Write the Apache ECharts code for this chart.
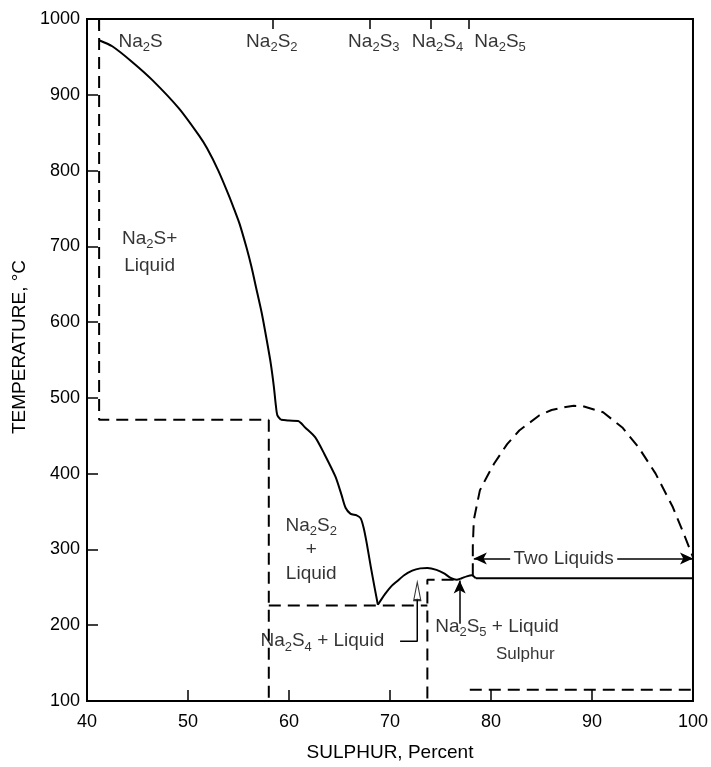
<!DOCTYPE html>
<html>
<head>
<meta charset="utf-8">
<script src="https://cdn.jsdelivr.net/npm/echarts@6/dist/echarts.min.js"></script>
<style>html,body{margin:0;padding:0;background:#fff}#c{width:711px;height:767px}</style>
</head>
<body>
<div id="c"></div>
<script>
// ---------- data ----------
const xTicks = [40, 50, 60, 70, 80, 90, 100];
const yTicks = [100, 200, 300, 400, 500, 600, 700, 800, 900, 1000];
const compoundTicks = [41.2, 58.4, 68.0, 74.0, 77.8];

// liquidus (solid) [S %, T °C], in pieces split at sharp corners
const liquidusA1 = [
  [41.2, 972], [42.5, 964], [44.5, 943], [46.5, 919], [49.1, 882], [51.1, 846],
  [51.9, 829], [53.0, 800], [54.05, 767], [54.6, 748], [55.1, 730], [55.8, 698],
  [56.3, 672], [56.75, 645], [57.3, 612], [57.8, 576], [58.2, 545], [58.5, 515],
  [58.7, 490], [58.85, 477], [59.2, 471]
];
const liquidusA2 = [
  [59.2, 471], [60.0, 470], [60.9, 469.5], [61.6, 461], [62.6, 448], [63.5, 426],
  [64.6, 396], [65.2, 372], [65.6, 355], [66.1, 347], [66.7, 345], [67.1, 341],
  [67.4, 328], [67.7, 308], [68.1, 277], [68.5, 248], [68.8, 227]
];
const liquidusB = [
  [68.8, 227], [69.5, 241], [70.1, 251], [70.7, 258], [71.4, 266],
  [72.2, 272], [73.0, 275], [73.7, 275.5], [74.6, 273], [75.4, 268], [76.0, 262.5],
  [76.6, 260], [77.1, 262], [77.6, 264.5], [78.1, 266], [78.5, 262]
];
const liquidusC = [[78.5, 262], [100, 262]];

// miscibility gap dome (dashed)
const dome = [
  [78.2, 266], [78.2, 304], [78.3, 339], [78.9, 378], [79.6, 396], [80.3, 413],
  [81.6, 439], [82.8, 457], [84.8, 477], [86.0, 484], [87.4, 488], [88.2, 489.5],
  [89.1, 489], [91.1, 481], [93.0, 461], [94.6, 435], [96.3, 400], [98.0, 356],
  [99.2, 317], [99.7, 300], [100, 290]
];

// dashed phase boundaries
const na2sLine     = [[41.2, 1000], [41.2, 471], [58.0, 471]];
const na2s2Line    = [[58.0, 471], [58.0, 100]];
const eutectic226  = [[58.0, 226], [73.7, 226]];
const na2s4Line    = [[76.3, 260], [73.7, 260], [73.7, 100]];
const sulphurLine  = [[77.9, 115], [100, 115]];

// Na2S4 + Liquid bracket (solid)
const na2s4Bracket = [[71.0, 179], [72.7, 179], [72.7, 236]];
const hollowHead   = [[72.7, 245]];

// arrows [from, to]
const arrows = [
  [[76.9, 202], [76.9, 259]],
  [[81.9, 288], [78.3, 288]],
  [[92.5, 288], [100, 288]]
];

// text labels [x, y, text]
const labelPos = [
  [45.3, 970], [58.3, 970], [68.4, 970], [74.7, 970], [80.9, 970],
  [46.2, 692], [62.2, 300], [63.3, 179], [80.6, 198], [87.2, 288], [83.4, 162]
];
const labelText = [
  'Na{s|2}S', 'Na{s|2}S{s|2}', 'Na{s|2}S{s|3}', 'Na{s|2}S{s|4}', 'Na{s|2}S{s|5}',
  'Na{s|2}S+\nLiquid', 'Na{s|2}S{s|2}\n+\nLiquid', 'Na{s|2}S{s|4} + Liquid',
  'Na{s|2}S{s|5} + Liquid', 'Two Liquids', 'Sulphur'
];
const labelLineHeight = [22, 22, 22, 22, 22, 27, 24, 22, 22, 22, 22];
const labelFontSize   = [19, 19, 19, 19, 19, 19, 19, 19, 19, 19, 17];

// ---------- chart ----------
const FONT = 'Liberation Sans, Arial, Helvetica, sans-serif';
const dash = [12, 7];
function dashed(data) {
  return { type: 'line', data: data, symbol: 'none', silent: true, z: 3,
    lineStyle: { color: '#000', width: 2, type: dash } };
}
function solid(data, smooth) {
  return { type: 'line', data: data, symbol: 'none', silent: true, z: 4,
    smooth: smooth, lineStyle: { color: '#000', width: 2 } };
}

const chart = echarts.init(document.getElementById('c'), null, { renderer: 'canvas' });
const first = solid(liquidusA1, 0.25);
first.markLine = {
  silent: true, symbol: ['none', 'arrow'], symbolSize: [9, 13], precision: 3,
  label: { show: false },
  lineStyle: { color: '#000', width: 1.5, type: 'solid' },
  data: arrows.map(a => [{ coord: a[0] }, { coord: a[1] }])
};

chart.setOption({
  animation: false,
  backgroundColor: '#fff',
  grid: { left: 87, right: 13, top: 19, bottom: 62, show: true, borderColor: '#000', borderWidth: 2 },
  xAxis: [{
    type: 'value', min: xTicks[0], max: xTicks[xTicks.length - 1], interval: 10,
    name: 'SULPHUR, Percent', nameLocation: 'middle', nameGap: 42,
    nameTextStyle: { color: '#000', fontFamily: FONT, fontSize: 19 },
    axisLine: { show: true, onZero: false, lineStyle: { color: '#000', width: 2 } },
    axisTick: { show: true, inside: true, length: 11, lineStyle: { color: '#000', width: 1.5 } },
    axisLabel: { color: '#000', fontFamily: FONT, fontSize: 18, margin: 12, formatter: v => String(v) },
    splitLine: { show: false }
  }, {
    type: 'value', position: 'top', min: xTicks[0], max: xTicks[xTicks.length - 1],
    axisLine: { show: true, lineStyle: { color: '#000', width: 2 } },
    axisTick: { show: true, inside: true, length: 10, customValues: compoundTicks, lineStyle: { color: '#000', width: 1.5 } },
    axisLabel: { show: false },
    splitLine: { show: false }
  }],
  yAxis: {
    type: 'value', min: yTicks[0], max: yTicks[yTicks.length - 1], interval: 100,
    name: 'TEMPERATURE, °C', nameLocation: 'middle', nameGap: 54,
    nameTextStyle: { color: '#000', fontFamily: FONT, fontSize: 19, padding: [0, 0, 0, 26] },
    axisLine: { show: true, lineStyle: { color: '#000', width: 2 } },
    axisTick: { show: true, inside: true, length: 11, lineStyle: { color: '#000', width: 1.5 } },
    axisLabel: { color: '#000', fontFamily: FONT, fontSize: 18, margin: 7, formatter: v => String(v) },
    splitLine: { show: false }
  },
  series: [
    first, solid(liquidusA2, 0.25), solid(liquidusB, 0.25), solid(liquidusC, false),
    dashed(dome), dashed(na2sLine), dashed(na2s2Line), dashed(eutectic226),
    dashed(na2s4Line), dashed(sulphurLine),
    { type: 'line', data: na2s4Bracket, symbol: 'none', silent: true, z: 4,
      lineStyle: { color: '#000', width: 1.5 } },
    { type: 'scatter', data: hollowHead, symbol: 'triangle', symbolSize: [7, 18], silent: true, z: 5,
      itemStyle: { color: '#fff', borderColor: '#000', borderWidth: 1.5 } },
    {
      type: 'scatter', silent: true, z: 6, symbolSize: 0,
      data: labelPos.map((p, i) => ({
        value: [p[0], p[1]], name: labelText[i],
        label: { lineHeight: labelLineHeight[i], fontSize: labelFontSize[i] }
      })),
      label: {
        show: true, position: 'inside', formatter: p => p.name,
        color: '#000', fontFamily: FONT, fontSize: 19, align: 'center', verticalAlign: 'middle',
        rich: { s: { fontSize: 13, fontFamily: FONT, color: '#000', padding: [12, 0, 0, 0] } }
      }
    }
  ]
});
</script>
</body>
</html>
